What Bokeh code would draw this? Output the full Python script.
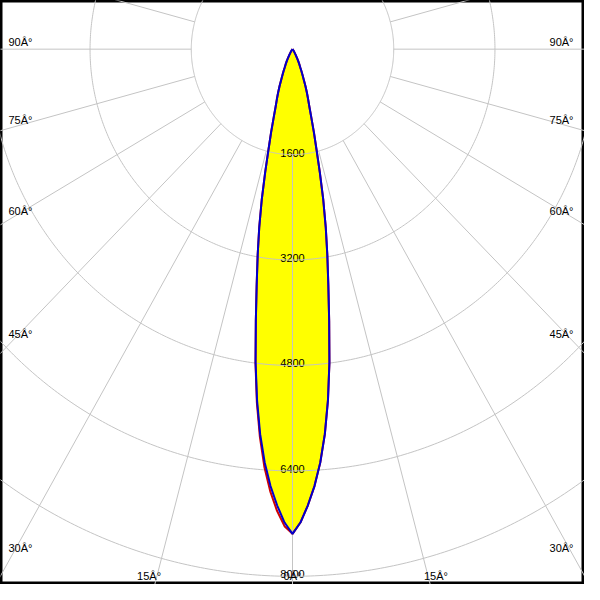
import numpy as np
from bokeh.plotting import figure
from bokeh.models import Range1d
from bokeh.core.properties import value
from bokeh.embed import file_html
from bokeh.resources import INLINE

# ---- data ----
gamma = [0, 1, 2, 3, 4, 5, 6, 7, 8, 9, 10, 11, 12, 13, 14, 15, 16, 17, 18, 19,
         20, 21, 22, 23, 24, 25, 26, 27, 28, 29, 30,
         35, 40, 45, 50, 55, 60, 65, 70, 75, 80, 85, 90]
i_c90 = [7356, 7185, 6930, 6640, 6290, 5865, 5360, 4790, 4165, 3620, 3170,
         2755, 2340, 1920, 1565, 1310, 1080, 910, 800, 700,
         600, 500, 420, 360, 300, 260, 220, 190, 150, 120, 100,
         40, 10, 0, 0, 0, 0, 0, 0, 0, 0, 0, 0]
i_c270 = [7356, 7185, 6930, 6640, 6290, 5865, 5360, 4790, 4165, 3620, 3170,
          2755, 2340, 1920, 1565, 1310, 1080, 910, 800, 700,
          600, 500, 420, 360, 300, 260, 220, 190, 150, 120, 100,
          40, 10, 0, 0, 0, 0, 0, 0, 0, 0, 0, 0]
i_c0 = [7356, 7185, 6930, 6640, 6290, 5865, 5360, 4790, 4165, 3620, 3170,
        2755, 2340, 1920, 1565, 1310, 1080, 910, 800, 700,
        600, 500, 420, 360, 300, 260, 220, 190, 150, 120, 100,
        40, 10, 0, 0, 0, 0, 0, 0, 0, 0, 0, 0]
i_c180 = [7356, 7240, 7010, 6720, 6360, 5910, 5390, 4800, 4165, 3620, 3170,
          2755, 2340, 1920, 1565, 1310, 1080, 910, 800, 700,
          600, 500, 420, 360, 300, 260, 220, 190, 150, 120, 100,
          40, 10, 0, 0, 0, 0, 0, 0, 0, 0, 0, 0]

ring_values = [1600, 3200, 4800, 6400, 8000]
ring_labels = ["1600", "3200", "4800", "6400", "8000"]
spoke_step = 15
side_angles = [30, 45, 60, 75, 90]
side_labels = ["30Â°", "45Â°", "60Â°", "75Â°", "90Â°"]
bottom_angles = [15, 0, 15]
bottom_signs = [-1, 0, 1]
bottom_labels = ["15Â°", "0Â°", "15Â°"]

# ---- geometry ----
W = H = 584
sy = 0.0677          # reference px per cd (vertical)
sx = 0.0650          # reference px per cd (horizontal)
x0, x1 = -300 / sx, 300 / sx
y0, y1 = -550 / sy, 50 / sy

p = figure(width=W, height=H, output_backend="svg", toolbar_location=None,
           x_range=Range1d(x0, x1), y_range=Range1d(y0, y1), min_border=0)
p.axis.visible = False
p.grid.visible = False
p.background_fill_color = "white"
p.border_fill_color = "white"
p.outline_line_color = "black"
p.outline_line_width = 4

g = np.radians(np.array(gamma, dtype=float))


def half(vals, sign):
    v = np.array(vals, dtype=float)
    return sign * v * np.sin(g), -v * np.cos(g)


# C90-C270 lobe (fill)
lx, ly = half(i_c270, -1)
rx, ry = half(i_c90, 1)
bx = np.concatenate([lx[::-1], rx[1:]])
by = np.concatenate([ly[::-1], ry[1:]])
p.patch(bx, by, fill_color="#ffff00", line_color=None)

font = value("Liberation Sans")
fs = "11px"

# intensity labels
p.text(x=[0] * len(ring_values), y=[-v for v in ring_values], text=ring_labels,
       text_align="center", text_baseline="bottom", y_offset=2,
       text_font=font, text_font_size=fs, text_color="black")

# grid circles
t = np.linspace(0, 2 * np.pi, 721)
p.multi_line([list(v * np.sin(t)) for v in ring_values],
             [list(-v * np.cos(t)) for v in ring_values],
             line_color="#c4c4c4", line_width=1)
# spokes
angs = np.radians(np.arange(0, 360, spoke_step))
rmin, rmax = ring_values[0], 30000
p.multi_line([[rmin * np.sin(a), rmax * np.sin(a)] for a in angs],
             [[-rmin * np.cos(a), -rmax * np.cos(a)] for a in angs],
             line_color="#c4c4c4", line_width=1)

# C0-C180 curve (red) then C90-C270 (blue)
l2x, l2y = half(i_c180, -1)
r2x, r2y = half(i_c0, 1)
p.line(np.concatenate([l2x[::-1], r2x[1:]]), np.concatenate([l2y[::-1], r2y[1:]]),
       line_color="#d00000", line_width=2)
p.line(bx, by, line_color="#0000cc", line_width=2)

# angle labels on the sides
sy_vals = [-(300 / np.tan(np.radians(a))) / sy if a < 90 else 0.0 for a in side_angles]
p.text(x=[x0] * len(side_angles), y=sy_vals, text=side_labels, text_align="left",
       text_baseline="bottom", x_offset=8, y_offset=-1,
       text_font=font, text_font_size=fs, text_color="black")
p.text(x=[x1] * len(side_angles), y=sy_vals, text=side_labels, text_align="right",
       text_baseline="bottom", x_offset=-11, y_offset=-1,
       text_font=font, text_font_size=fs, text_color="black")
# angle labels at the bottom
bxv = [s * (550 * np.tan(np.radians(a))) / sx for a, s in zip(bottom_angles, bottom_signs)]
p.text(x=bxv, y=[y0] * 3, text=bottom_labels, text_align="center",
       text_baseline="bottom", y_offset=-3,
       text_font=font, text_font_size=fs, text_color="black")

open("out.html", "w").write(file_html(p, INLINE))
